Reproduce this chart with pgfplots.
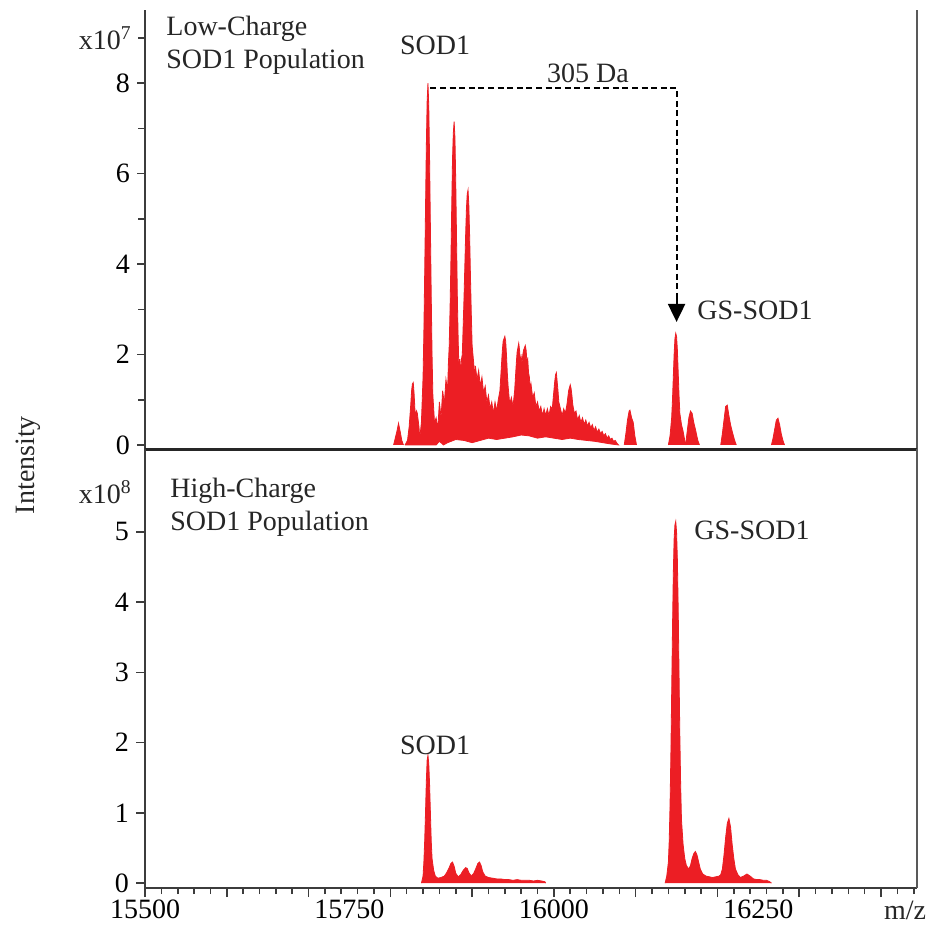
\documentclass[border=0pt]{standalone}
\usepackage{pgfplots}
\pgfplotsset{compat=1.18}
\usepackage{fontspec}
\setmainfont{Liberation Serif}
\usetikzlibrary{arrows.meta}
\definecolor{specred}{RGB}{236,30,36}
\definecolor{axgray}{RGB}{60,60,60}
\newcommand{\lf}{\fontsize{14}{16.5}\selectfont}
\begin{document}
\begin{tikzpicture}
\useasboundingbox (0,0) rectangle (470pt,-463pt);
\pgfplotsset{
  every axis/.append style={font=\lf},
  spec/.style={draw=specred, fill=specred, line width=0.4pt},
  common/.style={
    scale only axis, width=386pt, height=219.5pt,
    xmin=15500, xmax=16444, clip=false,
    axis line style={draw=none},
    tick align=outside, ytick pos=left, xtick pos=bottom,
    tick style={line width=0.8pt, color=axgray},
    scaled x ticks=false, scaled y ticks=false,
    /pgf/number format/assume math mode=true,
    /pgf/number format/1000 sep={},
    major tick length=4pt, minor tick length=3.5pt,
  },
}
% ---------------- top panel (x10^7) ----------------
\begin{axis}[common, at={(72.5pt,-5pt)}, anchor=north west,
  ymin=-0.09, ymax=9.62,
  xtick=\empty,
  ytick={0,2,4,6,8}, minor ytick={1,3,5,7,9},
]
\addplot[spec] coordinates {(15804,0) (15806,0.15) (15808,0.3) (15810,0.48) (15812,0.3) (15814,0.1) (15816,0)};
\addplot[spec] coordinates {
(15818,0) (15821,0.1) (15823,0.4) (15825,0.9) (15826,1.2) (15827,1.35) (15828,1.38) (15829,1.15) (15830,0.8) (15831,0.6) (15832,0.75) (15833,0.7) (15835,0.4) (15836,0.15)
(15838,0.5) (15840,1.5) (15841,2.5) (15842,3.8) (15843,5.2) (15844,6.6) (15845,7.6) (15846,8.0) (15847,7.5) (15848,6.3) (15849,4.8) (15850,3.3) (15851,2.0) (15852,1.1) (15854,0.5)
(15856,0.6) (15858,0.35) (15860,0.95) (15862,0.6) (15864,1.2) (15866,0.9) (15868,1.45) (15870,1.2)
(15871,1.8) (15872,2.2) (15873,3.0) (15874,4.0) (15875,5.2) (15876,6.3) (15877,6.9) (15878,7.15) (15879,6.8) (15880,5.8) (15881,4.5) (15882,3.2) (15883,2.3) (15884,1.6) (15885,1.9) (15886,1.5) (15887,1.9)
(15888,2.0) (15889,2.6) (15890,3.2) (15891,3.9) (15892,4.6) (15893,5.2) (15894,5.55) (15895,5.64) (15896,5.3) (15897,4.6) (15898,3.7) (15899,2.9) (15900,2.2) (15902,1.8)
(15903,1.5) (15904,1.75) (15906,1.45) (15908,1.65) (15910,1.3) (15912,1.5) (15914,1.15) (15916,1.3) (15918,0.95) (15920,1.1) (15922,0.8) (15924,0.95) (15926,0.7) (15928,0.95) (15930,0.75) (15932,1.0)
(15934,1.2) (15935,1.5) (15936,1.8) (15937,2.1) (15938,2.3) (15940,2.4) (15941,2.3) (15942,2.0) (15943,1.6) (15944,1.3) (15946,0.9) (15948,1.05) (15950,0.85) (15952,1.2) (15953,1.5) (15954,1.8) (15955,2.05) (15957,2.25) (15958,2.1) (15959,1.85) (15960,1.95) (15961,1.8) (15962,2.0) (15963,2.1) (15965,2.2) (15966,2.1) (15967,1.85) (15968,1.9) (15969,1.6) (15970,1.5) (15971,1.25) (15972,1.35) (15974,1.05) (15976,1.15) (15978,0.85) (15980,0.95) (15982,0.75) (15984,0.85) (15986,0.65) (15988,0.8) (15990,0.65) (15992,0.8) (15994,0.65) (15996,0.85) (15998,0.8)
(15999,1.0) (16000,1.2) (16001,1.4) (16002,1.55) (16003,1.6) (16004,1.4) (16005,1.2) (16006,0.95) (16008,0.8) (16010,0.65) (16012,0.8) (16014,0.7) (16016,0.9) (16017,1.05) (16018,1.2) (16020,1.33) (16021,1.25) (16022,1.1) (16023,0.9) (16025,0.7) (16027,0.75) (16029,0.55) (16031,0.65) (16033,0.5) (16035,0.6) (16037,0.45) (16039,0.55) (16041,0.42) (16043,0.5) (16045,0.38) (16047,0.45) (16049,0.32) (16051,0.4) (16053,0.28) (16055,0.35) (16057,0.25) (16059,0.3) (16061,0.2) (16063,0.25) (16065,0.15) (16067,0.2) (16069,0.12) (16071,0.15) (16073,0.08) (16075,0.1) (16077,0.04) (16079,0)
(16070,0.02) (16060,0.05) (16050,0.08) (16040,0.1) (16030,0.12) (16020,0.15) (16010,0.12) (16000,0.15) (15990,0.18) (15980,0.15) (15970,0.2) (15960,0.22) (15950,0.18) (15940,0.15) (15930,0.12) (15920,0.15) (15910,0.1) (15900,0.05) (15890,0.1) (15880,0.12) (15870,0.05) (15865,0) (15860,0.08) (15856,0) (15818,0)};
\addplot[spec] coordinates {(16086,0) (16088,0.25) (16090,0.55) (16092,0.75) (16093,0.77) (16095,0.6) (16097,0.5) (16099,0.2) (16101,0)};
\addplot[spec] coordinates {(16140,0) (16142,0.2) (16144,0.6) (16145,1.0) (16146,1.5) (16147,2.0) (16148,2.35) (16149,2.47) (16150,2.4) (16151,2.1) (16152,1.6) (16153,1.1) (16154,0.7) (16156,0.45) (16158,0.3) (16160,0.1) (16162,0)};
\addplot[spec] coordinates {(16161,0) (16163,0.3) (16165,0.6) (16167,0.75) (16169,0.7) (16171,0.5) (16173,0.35) (16176,0.1) (16178,0)};
\addplot[spec] coordinates {(16204,0) (16206,0.25) (16208,0.55) (16210,0.85) (16212,0.88) (16214,0.65) (16216,0.45) (16218,0.3) (16221,0.1) (16223,0)};
\addplot[spec] coordinates {(16266,0) (16268,0.15) (16270,0.35) (16272,0.55) (16274,0.59) (16276,0.45) (16278,0.25) (16280,0.1) (16282,0)};
% annotation
\draw[line width=1pt, dash pattern=on 3pt off 1.8pt] (axis cs:15849,7.9) -- (axis cs:16150,7.9) -- (axis cs:16150,3.2);
\draw[line width=1pt, -{Triangle[width=8.5pt,length=9pt]}] (axis cs:16150,3.3) -- (axis cs:16150,2.72);
% frame
\draw[line width=1pt, axgray] (rel axis cs:0,0) -- (rel axis cs:0,1);
\draw[line width=1.4pt, black!65] (rel axis cs:1,0) -- (rel axis cs:1,1);
\draw[line width=1.5pt, black!85] (rel axis cs:0,0) -- (rel axis cs:1,0);
\end{axis}
% ---------------- bottom panel (x10^8) ----------------
\begin{axis}[common, at={(72.5pt,-224.5pt)}, anchor=north west,
  ymin=-0.07, ymax=6.18,
  ytick={0,1,2,3,4,5},
  major tick length=4.5pt,
  xtick={15500,15600,...,16400},
  xticklabels={},
  minor xtick={15500,15520,...,16440},
  minor tick length=3pt,
  extra x ticks={15500,15750,16000,16250},
  extra x tick labels={15500,15750,16000,16250},
  extra x tick style={major tick length=0pt, xticklabel style={yshift=-2.5pt}},
]
\addplot[spec] coordinates {(15838,0) (15840,0.1) (15841,0.3) (15842,0.6) (15843,1.0) (15844,1.45) (15845,1.75) (15846,1.82) (15847,1.7) (15848,1.4) (15849,1.0) (15850,0.6) (15851,0.35) (15853,0.18) (15855,0.1) (15858,0.07) (15862,0.08) (15866,0.1) (15869,0.15) (15872,0.22) (15874,0.28) (15876,0.3) (15878,0.24) (15880,0.14) (15883,0.09) (15886,0.12) (15889,0.18) (15892,0.22) (15894,0.21) (15896,0.15) (15899,0.1) (15902,0.14) (15905,0.22) (15907,0.28) (15909,0.3) (15911,0.25) (15913,0.16) (15916,0.1) (15920,0.08) (15925,0.07) (15930,0.06) (15935,0.06) (15940,0.05) (15945,0.05) (15950,0.04) (15955,0.05) (15960,0.04) (15965,0.04) (15970,0.04) (15975,0.03) (15980,0.04) (15985,0.03) (15989,0.02) (15990,0)};
\addplot[spec] coordinates {(16136,0) (16138,0.1) (16140,0.3) (16141,0.6) (16142,1.1) (16143,1.8) (16144,2.7) (16145,3.6) (16146,4.4) (16147,4.9) (16148,5.1) (16149,5.15) (16150,5.0) (16151,4.6) (16152,3.9) (16153,3.0) (16154,2.1) (16155,1.4) (16156,0.9) (16158,0.55) (16160,0.35) (16162,0.25) (16165,0.2) (16167,0.25) (16169,0.35) (16171,0.42) (16173,0.45) (16175,0.4) (16177,0.3) (16179,0.2) (16182,0.13) (16186,0.1) (16190,0.09) (16194,0.08) (16198,0.09) (16202,0.1) (16204,0.12) (16206,0.2) (16208,0.4) (16210,0.65) (16212,0.85) (16214,0.92) (16216,0.8) (16218,0.55) (16220,0.35) (16222,0.2) (16225,0.12) (16228,0.08) (16232,0.1) (16236,0.13) (16240,0.1) (16244,0.06) (16248,0.05) (16252,0.05) (16256,0.04) (16260,0.04) (16264,0.02) (16266,0)};
\draw[line width=1pt, axgray] (rel axis cs:0,0) -- (rel axis cs:0,1);
\draw[line width=1pt, axgray] (rel axis cs:0,0) -- (rel axis cs:1,0);
\draw[line width=1.4pt, black!65] (rel axis cs:1,0) -- (rel axis cs:1,1);
\end{axis}
% ---------------- texts ----------------
\begin{scope}[every node/.style={font=\lf, inner sep=0pt, text=black!85}]
\node[anchor=north west, align=left] at (83pt,-8pt) {Low-Charge\\SOD1 Population};
\node[anchor=east] at (66pt,-19pt) {x10\textsuperscript{7}};
\node at (217.5pt,-22.5pt) {SOD1};
\node at (294pt,-36.5pt) {305 Da};
\node[anchor=west] at (348.5pt,-155pt) {GS-SOD1};
\node[anchor=north west, align=left] at (85pt,-239pt) {High-Charge\\SOD1 Population};
\node[anchor=east] at (66pt,-246pt) {x10\textsuperscript{8}};
\node at (217.5pt,-372.5pt) {SOD1};
\node[anchor=west] at (347pt,-265pt) {GS-SOD1};
\node at (452.5pt,-455pt) {m/z};
\node[rotate=90] at (14pt,-232.5pt) {Intensity};
\end{scope}
\end{tikzpicture}
\end{document}
